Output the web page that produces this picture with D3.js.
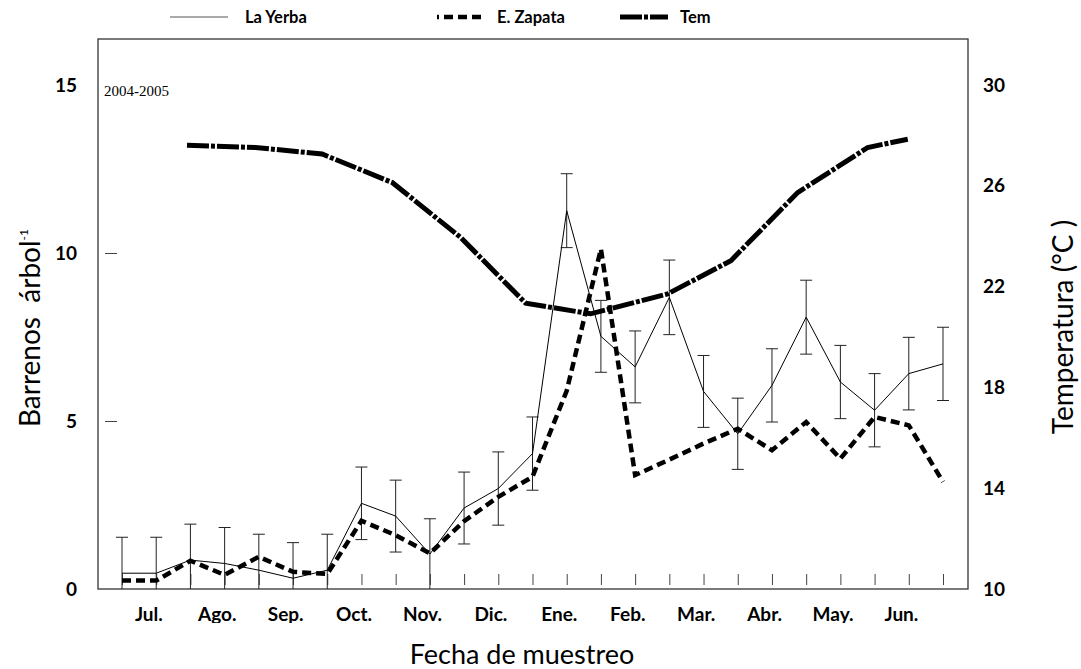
<!DOCTYPE html>
<html>
<head>
<meta charset="utf-8">
<script src="https://cdn.jsdelivr.net/npm/d3@7"></script>
<style>
  body { margin: 0; background: #fff; }
  text { font-family: Lato, sans-serif; fill: #000; }
</style>
</head>
<body>
<svg id="chart" width="1081" height="669"></svg>
<script>
// month labels and biweekly sampling points
var months = ["Jul.", "Ago.", "Sep.", "Oct.", "Nov.", "Dic.", "Ene.", "Feb.", "Mar.", "Abr.", "May.", "Jun."];
var samples = d3.range(25);

// barrenos per tree
var laYerba    = [0.47, 0.47, 0.86, 0.76, 0.56, 0.32, 0.56, 2.55, 2.17, 1.04, 2.41, 2.99, 4.03,
                  11.26, 7.52, 6.61, 8.68, 5.88, 4.62, 6.06, 8.09, 6.16, 5.32, 6.41, 6.70];
var laYerbaErr = [1.07, 1.07, 1.07, 1.07, 1.07, 1.06, 1.07, 1.08, 1.07, 1.05, 1.07, 1.09, 1.09,
                  1.10, 1.07, 1.07, 1.11, 1.07, 1.06, 1.09, 1.10, 1.09, 1.09, 1.08, 1.09];
var eZapata    = [0.25, 0.25, 0.84, 0.42, 0.96, 0.51, 0.45, 2.03, 1.60, 1.06, 2.02, 2.74, 3.34,
                  5.90, 10.12, 3.39, 3.85, 4.33, 4.77, 4.13, 4.97, 3.88, 5.12, 4.87, 3.19];

// monthly temperature (position in sample units)
var temPos = [1.9, 3.9, 5.85, 7.9, 9.9, 11.8, 13.7, 15.95, 17.8, 19.75, 21.8, 22.97];
var tem    = [27.61, 27.52, 27.26, 26.13, 23.95, 21.34, 20.92, 21.71, 23.03, 25.73, 27.52, 27.85];

var leftTicks = [0, 5, 10, 15];
var rightTicks = [10, 14, 18, 22, 26, 30];

var box = {left: 98, right: 968, top: 39, bottom: 589};

var svg = d3.select("#chart");

var x = d3.scaleLinear().domain([0, 24]).range([122, 943]);
var yL = d3.scaleLinear().domain([0, 15]).range([589, 85]);
var yR = d3.scaleLinear().domain([10, 30]).range([589, 85]);

// frame
svg.append("rect")
    .attr("x", box.left).attr("y", box.top)
    .attr("width", box.right - box.left).attr("height", box.bottom - box.top)
    .attr("fill", "none").attr("stroke", "#333").attr("stroke-width", 1.3);

// left axis labels
var gl = svg.append("g")
    .attr("transform", "translate(" + box.left + ",0)")
    .call(d3.axisLeft(yL).tickValues(leftTicks).tickSize(0).tickPadding(21));
gl.select(".domain").remove();
gl.selectAll("text").style("font-family", "Lato").style("font-weight", "bold").style("font-size", "19px");

// small inner dashes on the left
var gli = svg.append("g")
    .attr("transform", "translate(105,0)")
    .call(d3.axisRight(yL).tickValues([5, 10]).tickSize(12).tickFormat(""));
gli.select(".domain").remove();
gli.selectAll("line").attr("stroke", "#444");

// right axis labels
var gr = svg.append("g")
    .attr("transform", "translate(" + box.right + ",0)")
    .call(d3.axisRight(yR).tickValues(rightTicks).tickSize(0).tickPadding(15));
gr.select(".domain").remove();
gr.selectAll("text").style("font-family", "Lato").style("font-weight", "bold").style("font-size", "19px");

// bottom inner ticks at each sample
var gt = svg.append("g")
    .attr("transform", "translate(0,585)")
    .call(d3.axisTop(x).tickValues(samples).tickSize(11).tickFormat(""));
gt.select(".domain").remove();
gt.selectAll("line").attr("stroke", "#444");

// month labels (descenders clipped, as in the original)
svg.append("clipPath").attr("id", "mclip")
  .append("rect").attr("x", 0).attr("y", 590).attr("width", 1081).attr("height", 33);
var gm = svg.append("g")
    .attr("clip-path", "url(#mclip)")
  .append("g")
    .attr("transform", "translate(0," + box.bottom + ")")
    .call(d3.axisBottom(x)
      .tickValues(months.map(function(m, i) { return 2 * i + 0.77; }))
      .tickFormat(function(d, i) { return months[i]; })
      .tickSize(0).tickPadding(19));
gm.select(".domain").remove();
gm.selectAll("text").style("font-family", "Lato").style("font-weight", "bold").style("font-size", "19px");

// error bars for La Yerba
var eb = svg.append("g").attr("stroke", "#222").attr("stroke-width", 1);
samples.forEach(function(i) {
  var hi = laYerba[i] + laYerbaErr[i];
  var lo = Math.max(0, laYerba[i] - laYerbaErr[i]);
  var cx = x(i);
  eb.append("line").attr("x1", cx).attr("x2", cx).attr("y1", yL(hi)).attr("y2", yL(lo));
  eb.append("line").attr("x1", cx - 6).attr("x2", cx + 6).attr("y1", yL(hi)).attr("y2", yL(hi));
  if (lo > 0) {
    eb.append("line").attr("x1", cx - 6).attr("x2", cx + 6).attr("y1", yL(lo)).attr("y2", yL(lo));
  }
});

// La Yerba line
svg.append("path")
    .datum(laYerba)
    .attr("fill", "none").attr("stroke", "#000").attr("stroke-width", 1)
    .attr("d", d3.line().x(function(d, i) { return x(i); }).y(function(d) { return yL(d); }));

// E. Zapata line
svg.append("path")
    .datum(eZapata)
    .attr("fill", "none").attr("stroke", "#000").attr("stroke-width", 4.5)
    .attr("stroke-dasharray", "9,5")
    .attr("d", d3.line().x(function(d, i) { return x(i); }).y(function(d) { return yL(d); }));

// temperature line
svg.append("path")
    .datum(tem)
    .attr("fill", "none").attr("stroke", "#000").attr("stroke-width", 5)
    .attr("stroke-dasharray", "22,2,4,2")
    .attr("d", d3.line().x(function(d, i) { return x(temPos[i]); }).y(function(d) { return yR(d); }));

// season label
svg.append("text")
    .attr("x", 104).attr("y", 96)
    .style("font-family", "'Liberation Serif', serif").style("font-size", "15px")
    .text("2004-2005");

// axis titles
svg.append("text")
    .attr("transform", "translate(40,328) rotate(-90)")
    .attr("text-anchor", "middle")
    .style("font-size", "28px")
    .call(function(t) {
      t.append("tspan").text("Barrenos\u00a0 árbol");
      t.append("tspan").attr("dy", -12).style("font-size", "12px").text("-1");
    });

svg.append("text")
    .attr("transform", "translate(1073,327) rotate(-90)")
    .attr("text-anchor", "middle")
    .style("font-size", "28px")
    .text("Temperatura (°C )");

svg.append("text")
    .attr("x", 522).attr("y", 664)
    .attr("text-anchor", "middle")
    .style("font-size", "27px")
    .text("Fecha de muestreo");

// legend
var legend = [
  {name: "La Yerba", x1: 170, x2: 228, tx: 245, w: 1, dash: null, color: "#555"},
  {name: "E. Zapata", x1: 437, x2: 485, tx: 497, w: 4.5, dash: "2,5,9,5,9,5,9,5", color: "#000"},
  {name: "Tem", x1: 620, x2: 668, tx: 680, w: 5, dash: "22,2,4,2", color: "#000"}
];
var lg = svg.append("g");
legend.forEach(function(d) {
  lg.append("line")
    .attr("x1", d.x1).attr("x2", d.x2).attr("y1", 17).attr("y2", 17)
    .attr("stroke", d.color).attr("stroke-width", d.w)
    .attr("stroke-dasharray", d.dash);
  lg.append("text")
    .attr("x", d.tx).attr("y", 23)
    .style("font-weight", "bold").style("font-size", "16.5px")
    .text(d.name);
});
</script>
</body>
</html>
